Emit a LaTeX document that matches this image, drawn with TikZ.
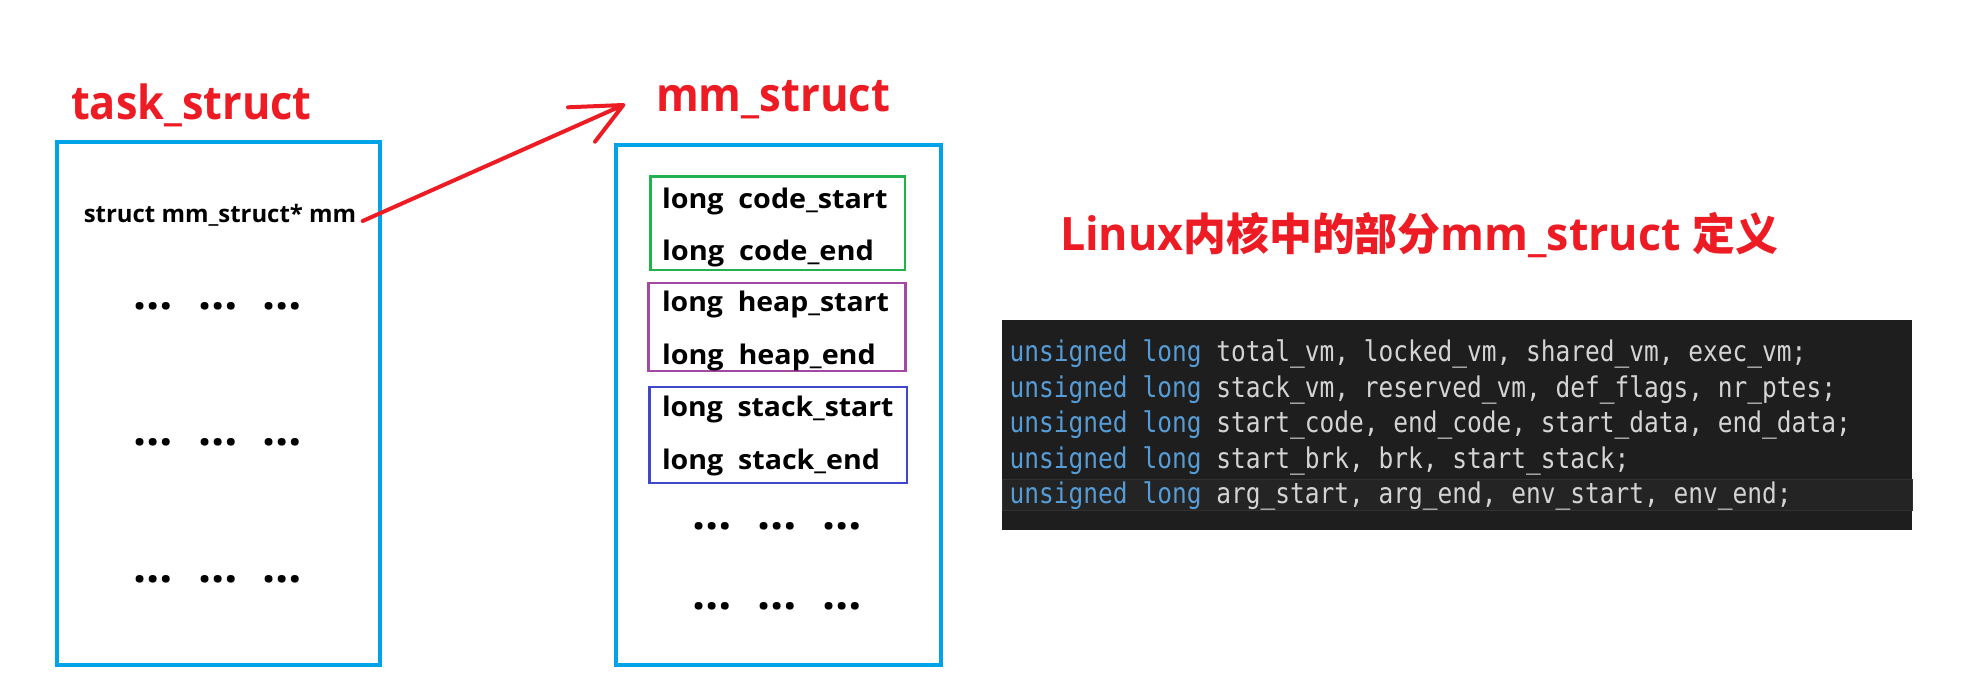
\documentclass[tikz,border=0pt]{standalone}
\usepackage{fontspec}
\usepackage{graphicx}
\newfontfamily\labfnt{Open Sans}
\newfontfamily\cjkfnt{Noto Sans CJK SC}
\newfontfamily\codefnt[FakeStretch=0.86,WordSpace={1,0,0}]{DejaVu Sans Mono}
\newcommand{\fitw}[2]{\resizebox{#1}{\height}{#2}}
\definecolor{boxblue}{HTML}{00A2E8}
\definecolor{arrowred}{HTML}{ED1C24}
\definecolor{codegreen}{HTML}{22B14C}
\definecolor{heappurple}{HTML}{A349A4}
\definecolor{stackblue}{HTML}{3F48CC}
\definecolor{codebg}{HTML}{1E1E1E}
\definecolor{hlband}{HTML}{242424}
\definecolor{hlborder}{HTML}{313131}
\definecolor{kw}{HTML}{569CD6}
\definecolor{codetxt}{HTML}{D4D4D4}
\tikzset{
  lbl/.style={inner sep=0pt, outer sep=0pt, anchor=base west, font=\labfnt\bfseries},
  redlbl/.style={lbl, text=arrowred},
  bigbox/.style={draw=boxblue, line width=4pt, inner sep=0pt},
  subbox/.style={line width=2.6pt, inner sep=0pt},
  dotrow/.style={inner sep=0pt, anchor=base west, font=\labfnt\bfseries\fontsize{46}{46}\selectfont},
  codeline/.style={inner sep=0pt, anchor=base west, text=codetxt,
    font=\codefnt\fontsize{28.5}{30}\selectfont\frenchspacing},
  ptrarrow/.style={draw=arrowred, line width=4pt, line cap=round, line join=round}
}
\begin{document}
\begin{tikzpicture}[x=1pt,y=-1pt]
\useasboundingbox (0,0) rectangle (1967,689);
\fill[white] (0,0) rectangle (1967,689);

% task_struct
\node[redlbl] (tasktitle) at (71.2,119.3) {\fitw{240.3pt}{\fontsize{47}{47}\selectfont task\_struct}};
\node[bigbox, minimum width=323.4pt, minimum height=523.3pt] (task) at (218.5,403.35) {};
\node[lbl] (ptr) at (83.8,222.7) {\fitw{272.4pt}{\fontsize{24}{24}\selectfont struct mm\_struct* mm}};
\node[dotrow] (tdots1) at (133,309.9) {…\hspace{25.5pt}…\hspace{25.5pt}…};
\node[dotrow] (tdots2) at (133,445.9) {…\hspace{25.5pt}…\hspace{25.5pt}…};
\node[dotrow] (tdots3) at (133,582.2) {…\hspace{25.5pt}…\hspace{25.5pt}…};

% mm_struct
\node[redlbl] (mmtitle) at (656.1,111.5) {\fitw{233.9pt}{\fontsize{47}{47}\selectfont mm\_struct}};
\node[bigbox, minimum width=325pt, minimum height=520.6pt] (mm) at (778,405) {};
\node[subbox, draw=codegreen, minimum width=254.5pt, minimum height=93.3pt] (codebox) at (777.75,223.35) {};
\node[subbox, draw=heappurple, minimum width=257.5pt, minimum height=88.2pt] (heapbox) at (776.95,326.9) {};
\node[subbox, draw=stackblue, minimum width=257.5pt, minimum height=96.2pt] (stackbox) at (778.25,434.9) {};
\node[lbl] (f1) at (662,208.3) {\fitw{225.5pt}{\fontsize{27}{27}\selectfont long\ \ code\_start}};
\node[lbl] (f2) at (662,260) {\fitw{212pt}{\fontsize{27}{27}\selectfont long\ \ code\_end}};
\node[lbl] (f3) at (662,311.7) {\fitw{227pt}{\fontsize{27}{27}\selectfont long\ \ heap\_start}};
\node[lbl] (f4) at (662,364.3) {\fitw{213.8pt}{\fontsize{27}{27}\selectfont long\ \ heap\_end}};
\node[lbl] (f5) at (662,416) {\fitw{231.5pt}{\fontsize{27}{27}\selectfont long\ \ stack\_start}};
\node[lbl] (f6) at (662,469) {\fitw{218pt}{\fontsize{27}{27}\selectfont long\ \ stack\_end}};
\node[dotrow] (mdots1) at (692.3,529.2) {…\hspace{25.5pt}…\hspace{25.5pt}…};
\node[dotrow] (mdots2) at (692.3,609.9) {…\hspace{25.5pt}…\hspace{25.5pt}…};

% pointer arrow
\coordinate (aS) at (362.7,221);
\coordinate (aT) at (623.3,105);
\draw[ptrarrow] (aS) -- (aT) -- ++(-55.3,2.3) (aT) -- ++(-28.3,36.7);

% caption
\node[redlbl] (caption) at (1060,250) {\fitw{718pt}{\fontsize{46}{46}\selectfont Linux{\cjkfnt\fontsize{44}{44}\selectfont 内核中的部分}mm\_struct {\cjkfnt\fontsize{44}{44}\selectfont 定义}}};

% code panel
\node[fill=codebg, minimum width=910pt, minimum height=210pt, inner sep=0pt, anchor=north west] (panel) at (1002,320) {};
\node[fill=hlband, draw=hlborder, line width=1.2pt, minimum width=910pt, minimum height=31pt, inner sep=0pt, anchor=north west] (curline) at (1002,479) {};
\node[codeline] (c1) at (1009.5,361.7) {{\color{kw}unsigned long} total\_vm, locked\_vm, shared\_vm, exec\_vm;};
\node[codeline] (c2) at (1009.5,397) {{\color{kw}unsigned long} stack\_vm, reserved\_vm, def\_flags, nr\_ptes;};
\node[codeline] (c3) at (1009.5,432.5) {{\color{kw}unsigned long} start\_code, end\_code, start\_data, end\_data;};
\node[codeline] (c4) at (1009.5,468) {{\color{kw}unsigned long} start\_brk, brk, start\_stack;};
\node[codeline] (c5) at (1009.5,503.5) {{\color{kw}unsigned long} arg\_start, arg\_end, env\_start, env\_end;};
\end{tikzpicture}
\end{document}
